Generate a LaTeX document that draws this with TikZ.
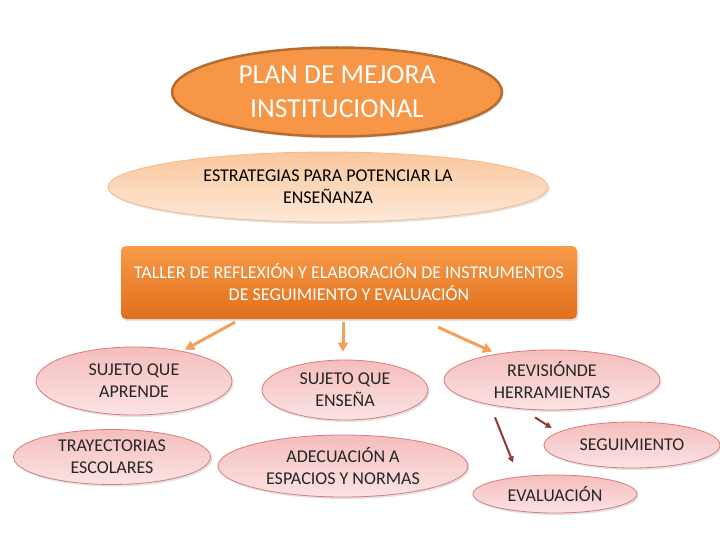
\documentclass[tikz,border=0pt]{standalone}
\usepackage{fontspec}
\setmainfont{Carlito}
\usetikzlibrary{arrows.meta,shapes.geometric,shadows}

\definecolor{planorange}{HTML}{F79646}
\definecolor{planbrown}{HTML}{B66D31}
\definecolor{peachtop}{HTML}{FAC69C}
\definecolor{peachbot}{HTML}{FDE9D9}
\definecolor{peachline}{HTML}{F8B888}
\definecolor{tallertop}{HTML}{F89A48}
\definecolor{tallerbot}{HTML}{E0701C}
\definecolor{pinktop}{HTML}{F5BDBD}
\definecolor{pinkbot}{HTML}{FBE3E3}
\definecolor{pinkline}{HTML}{D97C7A}
\definecolor{arroworange}{HTML}{F3A05C}
\definecolor{arrowred}{HTML}{953735}

\tikzset{
    soft/.style={drop shadow={opacity=0.22,shadow xshift=1.5pt,shadow yshift=-2pt}},
    planbox/.style={ellipse,draw=planbrown,line width=2.5pt,fill=planorange,
        text=white,inner sep=0pt,align=center,font=\fontsize{27.5}{34}\selectfont,soft},
    estrbox/.style={ellipse,draw=peachline,line width=0.8pt,top color=peachtop,
        bottom color=peachbot,inner sep=0pt,align=center,
        font=\fontsize{18}{22}\selectfont,soft},
    tallerbox/.style={rectangle,rounded corners=5pt,top color=tallertop,
        bottom color=tallerbot,text=white,inner sep=0pt,align=center,
        font=\fontsize{18}{22}\selectfont,soft},
    pinkbox/.style={ellipse,draw=pinkline,line width=0.8pt,top color=pinktop,
        bottom color=pinkbot,text=black!85,inner sep=0pt,align=center,
        font=\fontsize{18}{22}\selectfont,soft},
    oarrow/.style={draw=arroworange,line width=3pt,
        -{Triangle[length=9pt,width=10pt]}},
    rarrow/.style={draw=arrowred,line width=2pt,
        -{Triangle[length=6pt,width=6pt]}}
}

\begin{document}
\begin{tikzpicture}[x=1pt,y=-1pt]

\useasboundingbox[fill=white] (0,0) rectangle (720,540);

% Top levels
\node[planbox,minimum width=330pt,minimum height=89pt] (plan) at (337,92)
    {PLAN DE MEJORA\\INSTITUCIONAL};
\node[estrbox,minimum width=440pt,minimum height=70pt] (estrategias) at (328,187)
    {ESTRATEGIAS PARA POTENCIAR LA\\ENSEÑANZA};
\node[tallerbox,minimum width=456pt,minimum height=73pt] (taller) at (349,282.5)
    {TALLER DE REFLEXIÓN Y ELABORACIÓN DE INSTRUMENTOS\\DE SEGUIMIENTO Y EVALUACIÓN};

% Second row
\node[pinkbox,minimum width=196pt,minimum height=68pt] (aprende) at (134,381)
    {SUJETO QUE\\APRENDE};
\node[pinkbox,minimum width=166pt,minimum height=60pt] (ensena) at (345,390)
    {SUJETO QUE\\ENSEÑA};
\node[pinkbox,minimum width=216pt,minimum height=60pt] (revision) at (552,380)
    {REVISIÓNDE\\HERRAMIENTAS};

% Third row
\node[pinkbox,minimum width=197pt,minimum height=55pt] (trayectorias) at (112,457)
    {TRAYECTORIAS\\ESCOLARES};
\node[pinkbox,minimum width=250pt,minimum height=62pt] (adecuacion) at (343,466)
    {ADECUACIÓN A\\ESPACIOS Y NORMAS};
\node[pinkbox,minimum width=176pt,minimum height=46pt] (seguimiento) at (632,445)
    {SEGUIMIENTO};
\node[pinkbox,minimum width=164pt,minimum height=38pt] (evaluacion) at (555,494)
    {EVALUACIÓN};

% Arrows from the workshop
\draw[oarrow] ([xshift=-114pt,yshift=-3pt]taller.south) -- ([xshift=51pt,yshift=-3pt]aprende.north);
\draw[oarrow] ([xshift=-6pt,yshift=-3pt]taller.south) -- ([xshift=-2pt,yshift=8pt]ensena.north);
\draw[oarrow] ([xshift=89pt,yshift=-8pt]taller.south) -- ([xshift=-60pt,yshift=-2pt]revision.north);

% Arrows from the review
\draw[rarrow] ([xshift=-57pt,yshift=-7pt]revision.south) -- ([xshift=-42pt,yshift=12pt]evaluacion.north);
\draw[rarrow] ([xshift=-17pt,yshift=-7pt]revision.south) -- ([xshift=8pt,yshift=17pt]seguimiento.west);

\end{tikzpicture}
\end{document}
